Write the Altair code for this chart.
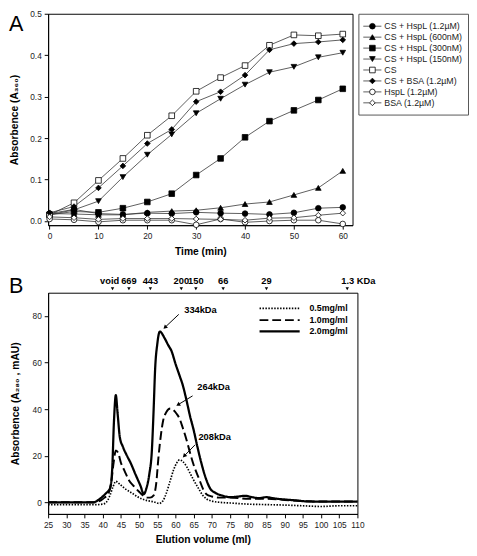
import altair as alt
import pandas as pd

FONT = "Liberation Sans"

# ---------------- Panel A data ----------------
time_min = [0, 5, 10, 15, 20, 25, 30, 35, 40, 45, 50, 55, 60]
series_a = ["CS + HspL (1.2µM)", "CS + HspL (600nM)", "CS + HspL (300nM)",
            "CS + HspL (150nM)", "CS", "CS + BSA (1.2µM)", "HspL (1.2µM)", "BSA (1.2µM)"]
a_hspl_1200 = [0.018, 0.028, 0.018, 0.016, 0.019, 0.018, 0.021, 0.019, 0.018, 0.016, 0.020, 0.031, 0.033]
a_hspl_600 = [0.018, 0.017, 0.015, 0.015, 0.021, 0.024, 0.026, 0.032, 0.041, 0.046, 0.063, 0.080, 0.121]
a_hspl_300 = [0.015, 0.023, 0.021, 0.031, 0.046, 0.066, 0.111, 0.151, 0.202, 0.241, 0.267, 0.292, 0.319]
a_hspl_150 = [0.015, 0.027, 0.048, 0.106, 0.160, 0.209, 0.260, 0.295, 0.329, 0.359, 0.372, 0.395, 0.406]
a_cs = [0.015, 0.044, 0.098, 0.151, 0.207, 0.254, 0.313, 0.346, 0.375, 0.424, 0.449, 0.447, 0.451]
a_cs_bsa = [0.020, 0.035, 0.080, 0.133, 0.187, 0.221, 0.288, 0.312, 0.352, 0.413, 0.428, 0.432, 0.437]
a_hspl_only = [0.005, 0.003, -0.002, 0.002, 0.002, 0.002, -0.009, 0.005, -0.003, 0.000, 0.002, 0.002, -0.007]
a_bsa_only = [0.010, 0.008, 0.004, 0.006, 0.006, 0.006, 0.005, 0.004, 0.002, 0.007, 0.008, 0.014, 0.019]
values_a = [a_hspl_1200, a_hspl_600, a_hspl_300, a_hspl_150, a_cs, a_cs_bsa, a_hspl_only, a_bsa_only]
shapes_a = ["circle", "triangle-up", "square", "triangle-down", "square", "diamond", "circle", "diamond"]
fills_a = ["black", "black", "black", "black", "white", "black", "white", "white"]

# ---------------- Panel B data ----------------
series_b = ["0.5mg/ml", "1.0mg/ml", "2.0mg/ml"]
b05_ml = [25, 30, 35, 38, 40, 41, 42, 42.8, 43.6, 44.5, 46, 48, 50, 52, 54, 55.5, 56.5, 57.5, 58.5, 59.5,
          60.3, 61.1, 62, 63, 64, 65, 66.5, 67.5, 68.5, 70, 72, 75, 80, 85, 90, 95, 100, 105, 110]
b05_mau = [-1, -1, -1, -1, -0.8, 0, 3, 6.5, 9, 8, 6, 4, 2, 0.8, 0.2, -0.5, 0.5, 4, 9, 14,
           16.8, 18.2, 17.5, 15.5, 12.5, 9.5, 5.5, 3, 1.5, 0.5, 0, -0.3, -0.8, -1, -1.2, -1.5, -1.8, -1.5, -1.5]
b10_ml = [25, 30, 35, 38, 39.5, 40.5, 41.5, 42.3, 43, 43.6, 44.3, 45, 46, 47.2, 48.5, 50, 51, 52.2, 53, 54,
          54.7, 55.3, 56, 56.6, 57.5, 58.6, 59.5, 60.3, 61.1, 62, 63, 63.8, 65, 66.5, 67.5, 68.5, 70, 72, 75, 80,
          85, 90, 95, 100, 110]
b10_mau = [0, 0, 0, 0, 0.8, 2, 3.5, 8, 17, 22.3, 21, 17, 13.5, 9.5, 7, 4.5, 3, 2, 2, 3,
           8, 19, 29, 35, 38.8, 40.3, 39.5, 38, 36, 32, 27, 22.4, 16, 10, 6, 3.5, 2.5, 2, 2, 1.5,
           1.5, 1, 0.5, 0.3, 0.3]
b20_ml = [25, 30, 35, 37.5, 39, 40, 41, 42, 42.6, 43.1, 43.6, 44.1, 44.7, 45.5, 46.5, 47.7, 49, 50.4, 51.3, 52,
          52.8, 53.5, 54, 54.4, 55, 55.7, 57, 58, 58.9, 60, 61.1, 62, 63, 64, 65, 66, 67, 68.3, 69.5, 71,
          73, 75, 77, 79, 81, 83, 85, 87, 90, 93, 96, 100, 105, 110]
b20_mau = [0, 0, 0, 0, 1.2, 2.5, 4, 6, 14, 35, 46, 38, 28, 24, 20.5, 16.8, 12, 7, 3.5, 6,
           12, 22, 40, 57, 68, 73.3, 70.5, 67.5, 65, 59.5, 54.5, 50.3, 44, 37, 31, 24, 17.5, 10.5, 6, 4,
           2.8, 2.2, 2.4, 2.8, 2.2, 1.8, 2.2, 1.7, 1.2, 0.8, 0.4, 0.3, 0.3, 0.3]
b_xs = [b05_ml, b10_ml, b20_ml]
b_ys = [b05_mau, b10_mau, b20_mau]
b_dash = [[1.5, 1.5], [9, 4], [1, 0]]
b_width = [1.7, 2.0, 2.3]

marker_ml = [42.7, 47.2, 53.1, 61.6, 65.6, 73.1, 85.0, 107.2]
marker_labels = ["void", "669", "443", "200", "150", "66", "29", "1.3 KDa"]

annot_labels = ["334kDa", "264kDa", "208kDa"]
annot_x = [62.4, 66.0, 66.3]
annot_y = [82.7, 49.3, 27.9]
arrow_from_x = [60.9, 64.7, 65.4]
arrow_from_y = [80.7, 45.7, 24.7]
arrow_tip_x = [57.1, 60.7, 62.4]
arrow_tip_y = [75.1, 41.9, 19.9]
arrow_angle = [227, 239, 224]

# ---------------- Panel A ----------------
dfA = pd.DataFrame([{"series": s, "time": t, "absorb": v}
                    for s, vals in zip(series_a, values_a) for t, v in zip(time_min, vals)])

xA = alt.X("time:Q", scale=alt.Scale(domain=[-0.3, 62], nice=False, zero=False),
           axis=alt.Axis(values=[0, 10, 20, 30, 40, 50, 60], title="Time (min)",
                         titlePadding=6, labelPadding=3, tickSize=4, labelOverlap=False, labelFlush=False))
yA = alt.Y("absorb:Q", scale=alt.Scale(domain=[-0.01, 0.5], nice=False, zero=False),
           axis=alt.Axis(values=[0.0, 0.1, 0.2, 0.3, 0.4, 0.5], format=".1f",
                         title="Absorbence (A₃₆₀)", titlePadding=10, labelPadding=3, tickSize=4,
                         labelOverlap=False, labelFlush=False))
shape_scale = alt.Scale(domain=series_a, range=shapes_a)
fill_scale = alt.Scale(domain=series_a, range=fills_a)

linesA = alt.Chart(dfA).mark_line(color="#333", strokeWidth=0.8).encode(
    x=xA, y=yA, detail="series:N")
pointsA = alt.Chart(dfA).mark_point(filled=True, stroke="black", strokeWidth=0.8, size=33, opacity=1).encode(
    x=xA, y=yA,
    shape=alt.Shape("series:N", scale=shape_scale, legend=None),
    fill=alt.Fill("series:N", scale=fill_scale, legend=None))
letterA = alt.Chart(pd.DataFrame({"t": ["A"]})).mark_text(
    align="left", baseline="top", fontSize=22, color="black").encode(
    text="t:N", x=alt.value(-40), y=alt.value(1))

panelA = alt.layer(linesA, pointsA, letterA).properties(
    width=311, height=216, view=alt.ViewBackground(stroke="black", strokeWidth=1))

# legend for A (box at right)
dfLeg = pd.DataFrame({"series": series_a})
yL = alt.Y("series:N", sort=series_a, scale=alt.Scale(type="point", range=[12.7, 91], padding=0), axis=None)
legRule = alt.Chart(dfLeg).mark_rule(color="#333", strokeWidth=0.8).encode(
    x=alt.value(5), x2=alt.value(23.5), y=yL)
legPts = alt.Chart(dfLeg).mark_point(filled=True, stroke="black", strokeWidth=0.8, size=33, opacity=1).encode(
    x=alt.value(14.3), y=yL,
    shape=alt.Shape("series:N", scale=shape_scale, legend=None),
    fill=alt.Fill("series:N", scale=fill_scale, legend=None))
legTxt = alt.Chart(dfLeg).mark_text(align="left", baseline="middle", fontSize=9, color="#222").encode(
    x=alt.value(26.5), y=yL, text="series:N")
legendA = alt.layer(legRule, legPts, legTxt).properties(
    width=112, height=103, view=alt.ViewBackground(stroke="#555", strokeWidth=1))

# ---------------- Panel B ----------------
dfB = pd.DataFrame([{"series": s, "ml": x, "mau": y}
                    for s, xs, ys in zip(series_b, b_xs, b_ys) for x, y in zip(xs, ys)])

xB = alt.X("ml:Q", scale=alt.Scale(domain=[25, 110], nice=False, zero=False),
           axis=alt.Axis(values=list(range(25, 111, 5)), title="Elution volume (ml)",
                         titlePadding=6, labelPadding=3, tickSize=4, labelOverlap=False, labelFlush=False,
                         labelSeparation=0))
yB = alt.Y("mau:Q", scale=alt.Scale(domain=[-5, 90], nice=False, zero=False),
           axis=alt.Axis(values=[0, 20, 40, 60, 80], title="Absorbence (A₂₈₀ , mAU)",
                         titlePadding=12, labelPadding=3, tickSize=4, labelOverlap=False, labelFlush=False))

layersB = []
for s, d, w in zip(series_b, b_dash, b_width):
    layersB.append(alt.Chart(dfB).transform_filter(alt.datum.series == s).mark_line(
        interpolate="monotone", color="black", strokeWidth=w, strokeDash=d).encode(x=xB, y=yB))

dfMk = pd.DataFrame({"ml": marker_ml, "label": marker_labels})
triB = alt.Chart(dfMk).mark_point(shape="triangle-down", filled=True, color="black", size=12, opacity=1).encode(
    x=xB, y=alt.value(-4))
mkText = alt.Chart(dfMk).transform_filter(
    (alt.datum.label != "void") & (alt.datum.label != "1.3 KDa")).mark_text(
    align="center", baseline="middle", fontSize=9.5, fontWeight="bold", color="black").encode(
    x=xB, y=alt.value(-12), text="label:N")
mkVoid = alt.Chart(dfMk).transform_filter(alt.datum.label == "void").mark_text(
    align="center", baseline="middle", fontSize=9.5, fontWeight="bold", color="black", dx=-3).encode(
    x=xB, y=alt.value(-12), text="label:N")
mkKda = alt.Chart(dfMk).transform_filter(alt.datum.label == "1.3 KDa").mark_text(
    align="left", baseline="middle", fontSize=9.5, fontWeight="bold", color="black", dx=-6).encode(
    x=xB, y=alt.value(-12), text="label:N")

dfArr = pd.DataFrame({"ml": arrow_from_x, "mau": arrow_from_y, "ml2": arrow_tip_x, "mau2": arrow_tip_y})
arrRule = alt.Chart(dfArr).mark_rule(color="black", strokeWidth=1).encode(
    x=xB, y=yB, x2="ml2:Q", y2="mau2:Q")
dfHead = pd.DataFrame({"ml": arrow_tip_x, "mau": arrow_tip_y, "ang": arrow_angle})
arrHead = alt.Chart(dfHead).mark_point(shape="triangle-up", filled=True, color="black", size=22, opacity=1).encode(
    x=xB, y=yB, angle=alt.Angle("ang:Q", scale=None))
dfAnn = pd.DataFrame({"ml": annot_x, "mau": annot_y, "label": annot_labels})
annText = alt.Chart(dfAnn).mark_text(align="left", baseline="middle", fontSize=9.5,
                                     fontWeight="bold", color="black").encode(
    x=xB, y=yB, text="label:N")

legB = []
leg_rows = [16, 28, 39.5]
for s, d, w, r in zip(series_b, b_dash, b_width, leg_rows):
    legB.append(alt.Chart(pd.DataFrame({"s": [s]})).mark_rule(
        color="black", strokeWidth=w, strokeDash=d).encode(
        x=alt.value(216), x2=alt.value(257), y=alt.value(r)))
    legB.append(alt.Chart(pd.DataFrame({"s": [s]})).mark_text(
        align="left", baseline="middle", fontSize=9, fontWeight="bold", color="black").encode(
        x=alt.value(267), y=alt.value(r), text="s:N"))

letterB = alt.Chart(pd.DataFrame({"t": ["B"]})).mark_text(
    align="left", baseline="top", fontSize=22, color="black").encode(
    text="t:N", x=alt.value(-40), y=alt.value(-17))

panelB = alt.layer(*layersB, triB, mkText, mkVoid, mkKda, arrRule, arrHead, annText, *legB, letterB).properties(
    width=316, height=226, view=alt.ViewBackground(stroke="black", strokeWidth=1))

top = alt.hconcat(panelA, legendA, spacing=4)
chart = alt.vconcat(top, panelB, spacing=17).properties(
    padding={"left": 0, "top": -5, "right": 0, "bottom": 0}, background="white"
).configure_axis(
    labelFont=FONT, titleFont=FONT, labelFontSize=8.5, titleFontSize=10.5, titleFontWeight="bold",
    labelColor="#222", titleColor="black", domainColor="black", tickColor="black", grid=False,
    labelOverlap=False
).configure_text(font=FONT).configure_view(stroke="black")

chart.save("out.html", embed_options={"renderer": "svg", "actions": False})
